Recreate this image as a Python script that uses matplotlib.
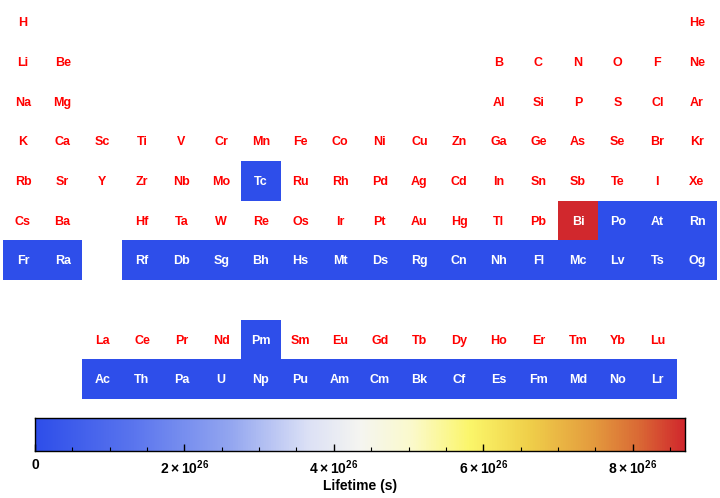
import numpy as np
import matplotlib
matplotlib.use('Agg')
import matplotlib.pyplot as plt
from matplotlib.colors import LinearSegmentedColormap, Normalize
from matplotlib.patches import Rectangle
from matplotlib.ticker import FixedLocator

plt.rcParams['font.family'] = ['Liberation Sans', 'DejaVu Sans']
plt.rcParams['mathtext.fontset'] = 'custom'
plt.rcParams['mathtext.rm'] = 'Liberation Sans:bold'
plt.rcParams['mathtext.bf'] = 'Liberation Sans:bold'

# element symbols, one list per table row (None = empty column)
row1 = ["H"] + [None] * 16 + ["He"]
row2 = ["Li", "Be"] + [None] * 10 + ["B", "C", "N", "O", "F", "Ne"]
row3 = ["Na", "Mg"] + [None] * 10 + ["Al", "Si", "P", "S", "Cl", "Ar"]
row4 = ["K", "Ca", "Sc", "Ti", "V", "Cr", "Mn", "Fe", "Co", "Ni", "Cu", "Zn",
        "Ga", "Ge", "As", "Se", "Br", "Kr"]
row5 = ["Rb", "Sr", "Y", "Zr", "Nb", "Mo", "Tc", "Ru", "Rh", "Pd", "Ag", "Cd",
        "In", "Sn", "Sb", "Te", "I", "Xe"]
row6 = ["Cs", "Ba", None, "Hf", "Ta", "W", "Re", "Os", "Ir", "Pt", "Au", "Hg",
        "Tl", "Pb", "Bi", "Po", "At", "Rn"]
row7 = ["Fr", "Ra", None, "Rf", "Db", "Sg", "Bh", "Hs", "Mt", "Ds", "Rg", "Cn",
        "Nh", "Fl", "Mc", "Lv", "Ts", "Og"]
lanthanides = [None, None, "La", "Ce", "Pr", "Nd", "Pm", "Sm", "Eu", "Gd", "Tb",
               "Dy", "Ho", "Er", "Tm", "Yb", "Lu", None]
actinides = [None, None, "Ac", "Th", "Pa", "U", "Np", "Pu", "Am", "Cm", "Bk",
             "Cf", "Es", "Fm", "Md", "No", "Lr", None]
rows = [row1, row2, row3, row4, row5, row6, row7, None, lanthanides, actinides]

# lifetime in seconds for unstable elements (stable ones are not listed)
unstable = ["Tc", "Pm", "Po", "At", "Rn", "Fr", "Ra", "Rf", "Db", "Sg", "Bh",
            "Hs", "Mt", "Ds", "Rg", "Cn", "Nh", "Fl", "Mc", "Lv", "Ts", "Og",
            "Ac", "Th", "Pa", "U", "Np", "Pu", "Am", "Cm", "Bk", "Cf", "Es",
            "Fm", "Md", "No", "Lr", "Bi"]
lifetimes = [0.0] * 37 + [8.7e26]
lifetime_of = dict(zip(unstable, lifetimes))

vmax = 8.7e26
cmap = LinearSegmentedColormap.from_list("temp", [
    (0.00, "#2E4EEA"), (0.15, "#5A75EE"), (0.30, "#93A6F0"),
    (0.42, "#DCE1F6"), (0.50, "#F5F5F1"), (0.58, "#FBFACC"),
    (0.67, "#FBF66A"), (0.76, "#F0D04A"), (0.86, "#E49B3E"),
    (0.93, "#DA6A35"), (1.00, "#D1282D")])
norm = Normalize(0, vmax)

fig = plt.figure(figsize=(7.2, 4.98), dpi=100)
ax = fig.add_axes([0, 1 - 405 / 498, 1, 405 / 498])
ax.set_xlim(-0.58, 17.58)
ax.set_ylim(9.65, -0.554)
ax.axis('off')

for r, row in enumerate(rows):
    if row is None:
        continue
    for c, sym in enumerate(row):
        if sym is None:
            continue
        if sym in lifetime_of:
            ax.add_patch(Rectangle((c - 0.5, r - 0.5), 1, 1,
                                   facecolor=cmap(norm(lifetime_of[sym])),
                                   edgecolor='none'))
            tcol = 'white'
        else:
            tcol = '#FF0000'
        ax.text(c, r + 0.03, sym, ha='center', va='center', fontsize=9,
                fontweight='bold', color=tcol)

cax = fig.add_axes([35 / 720, 1 - 451 / 498, 650 / 720, 33 / 498])
grad = np.linspace(0, vmax, 512).reshape(1, -1)
cax.imshow(grad, aspect='auto', cmap=cmap, norm=norm,
           extent=[0, vmax, 0, 1])
cax.set_xlim(0, vmax)
cax.set_yticks([])
cax.set_xticks([0, 2e26, 4e26, 6e26, 8e26])
cax.set_xticklabels(['0', r'$2\times10^{26}$', r'$4\times10^{26}$',
                     r'$6\times10^{26}$', r'$8\times10^{26}$'],
                    fontsize=10, fontweight='bold')
cax.xaxis.set_minor_locator(FixedLocator(np.arange(0.5e26, vmax, 0.5e26)))
cax.tick_params(axis='x', which='major', direction='in', length=5, width=1,
                pad=5)
cax.tick_params(axis='x', which='minor', direction='in', length=3, width=0.8)
for s in cax.spines.values():
    s.set_linewidth(1.0)
fig.text(360 / 720, 1 - 486 / 498, 'Lifetime (s)', ha='center', va='center',
         fontsize=10, fontweight='bold')

fig.savefig('out.png', dpi=100)
